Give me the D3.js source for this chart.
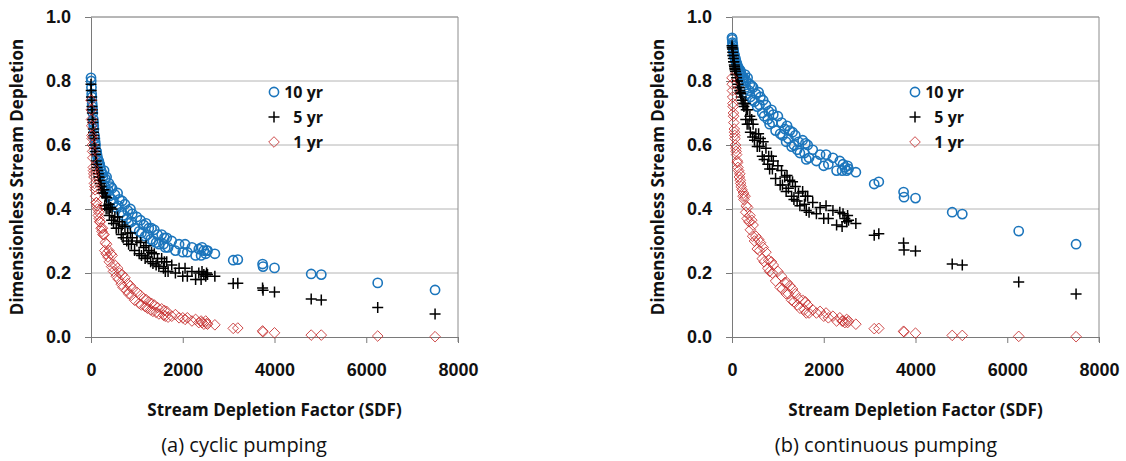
<!DOCTYPE html>
<html>
<head>
<meta charset="utf-8">
<script src="https://cdn.jsdelivr.net/npm/d3@7"></script>
<style>
  html, body { margin: 0; padding: 0; background: #fff; }
  svg { display: block; font-family: "Open Sans", "Noto Sans", sans-serif; }
  .tick text { font-weight: 700; font-size: 18px; fill: #111; }
</style>
</head>
<body>
<div id="chart"></div>
<script>
// Stream depletion factor of each well (shared by all series)
const SDF = [
  0, 5, 10, 15, 20, 25, 30, 35, 40, 50,
  55, 60, 65, 75, 85, 90, 100, 115, 120, 130,
  145, 160, 170, 180, 190, 200, 220, 240, 250, 260,
  285, 300, 310, 330, 340, 370, 390, 400, 430, 450,
  460, 490, 520, 550, 580, 600, 620, 660, 680, 700,
  740, 780, 800, 820, 860, 880, 900, 950, 1000, 1050,
  1080, 1100, 1150, 1180, 1200, 1230, 1260, 1300, 1320, 1350,
  1380, 1420, 1450, 1480, 1540, 1580, 1600, 1620, 1650, 1680,
  1760, 1840, 1920, 2000, 2050, 2100, 2200, 2280, 2350, 2400,
  2420, 2460, 2500, 2520, 2540, 2700, 3100, 3200, 3740, 3750,
  4000, 4800, 5020, 6250, 7500
];

// (a) cyclic pumping
const CYC_10 = [
  0.81, 0.80, 0.78, 0.76, 0.75, 0.73, 0.72, 0.71, 0.70, 0.68,
  0.67, 0.66, 0.65, 0.63, 0.62, 0.61, 0.60, 0.58, 0.58, 0.57,
  0.56, 0.55, 0.55, 0.54, 0.54, 0.53, 0.52, 0.51, 0.51, 0.50,
  0.52, 0.47, 0.495, 0.455, 0.50, 0.46, 0.48, 0.44, 0.47, 0.43,
  0.465, 0.42, 0.445, 0.405, 0.45, 0.41, 0.43, 0.39, 0.425, 0.38,
  0.415, 0.37, 0.395, 0.355, 0.40, 0.36, 0.385, 0.34, 0.375, 0.33,
  0.365, 0.325, 0.35, 0.315, 0.355, 0.32, 0.34, 0.305, 0.34, 0.30,
  0.335, 0.295, 0.32, 0.29, 0.32, 0.29, 0.31, 0.28, 0.31, 0.28,
  0.30, 0.27, 0.29, 0.265, 0.29, 0.265, 0.28, 0.255, 0.275, 0.255,
  0.28, 0.27, 0.26, 0.27, 0.27, 0.26, 0.24, 0.242, 0.228, 0.22,
  0.216, 0.197, 0.195, 0.169, 0.147
];
const CYC_5 = [
  0.79, 0.77, 0.75, 0.74, 0.72, 0.71, 0.70, 0.68, 0.67, 0.65,
  0.64, 0.63, 0.62, 0.60, 0.59, 0.58, 0.57, 0.55, 0.54, 0.53,
  0.52, 0.51, 0.50, 0.50, 0.49, 0.48, 0.47, 0.46, 0.45, 0.45,
  0.46, 0.41, 0.44, 0.40, 0.435, 0.40, 0.415, 0.38, 0.405, 0.365,
  0.40, 0.355, 0.375, 0.34, 0.375, 0.34, 0.36, 0.32, 0.35, 0.31,
  0.345, 0.30, 0.325, 0.29, 0.325, 0.29, 0.31, 0.27, 0.30, 0.26,
  0.295, 0.255, 0.28, 0.245, 0.285, 0.25, 0.27, 0.235, 0.265, 0.23,
  0.26, 0.225, 0.245, 0.22, 0.245, 0.215, 0.235, 0.205, 0.235, 0.205,
  0.225, 0.20, 0.215, 0.19, 0.215, 0.19, 0.205, 0.18, 0.20, 0.18,
  0.205, 0.195, 0.19, 0.20, 0.195, 0.19, 0.167, 0.168, 0.153, 0.146,
  0.141, 0.119, 0.116, 0.092, 0.072
];
const CYC_1 = [
  0.74, 0.71, 0.68, 0.66, 0.63, 0.62, 0.60, 0.58, 0.56, 0.53,
  0.52, 0.51, 0.50, 0.48, 0.47, 0.46, 0.44, 0.42, 0.42, 0.41,
  0.40, 0.38, 0.39, 0.37, 0.36, 0.36, 0.34, 0.33, 0.34, 0.32,
  0.32, 0.27, 0.295, 0.26, 0.29, 0.25, 0.27, 0.235, 0.26, 0.22,
  0.255, 0.205, 0.225, 0.19, 0.215, 0.18, 0.20, 0.165, 0.195, 0.155,
  0.185, 0.145, 0.167, 0.135, 0.16, 0.13, 0.15, 0.115, 0.14, 0.105,
  0.13, 0.10, 0.12, 0.095, 0.117, 0.09, 0.11, 0.085, 0.105, 0.08,
  0.10, 0.077, 0.092, 0.072, 0.088, 0.068, 0.083, 0.065, 0.08, 0.062,
  0.065, 0.07, 0.06, 0.06, 0.055, 0.06, 0.05, 0.055, 0.045, 0.05,
  0.045, 0.04, 0.05, 0.042, 0.04, 0.038, 0.027, 0.028, 0.019, 0.016,
  0.013, 0.006, 0.006, 0.003, 0.001
];

// (b) continuous pumping
const CON_10 = [
  0.935, 0.93, 0.92, 0.915, 0.91, 0.90, 0.90, 0.89, 0.89, 0.88,
  0.88, 0.875, 0.87, 0.87, 0.86, 0.86, 0.855, 0.85, 0.845, 0.84,
  0.84, 0.83, 0.835, 0.82, 0.83, 0.82, 0.815, 0.81, 0.80, 0.81,
  0.82, 0.78, 0.80, 0.76, 0.81, 0.77, 0.79, 0.75, 0.785, 0.74,
  0.78, 0.735, 0.76, 0.72, 0.765, 0.725, 0.75, 0.70, 0.74, 0.69,
  0.725, 0.68, 0.705, 0.665, 0.71, 0.67, 0.695, 0.645, 0.69, 0.635,
  0.67, 0.63, 0.65, 0.61, 0.66, 0.62, 0.645, 0.595, 0.64, 0.60,
  0.63, 0.585, 0.61, 0.575, 0.615, 0.575, 0.605, 0.555, 0.60, 0.56,
  0.585, 0.55, 0.57, 0.535, 0.57, 0.54, 0.56, 0.52, 0.55, 0.52,
  0.54, 0.53, 0.52, 0.535, 0.525, 0.515, 0.478, 0.485, 0.453, 0.437,
  0.434, 0.39, 0.384, 0.331, 0.29
];
const CON_5 = [
  0.91, 0.905, 0.90, 0.89, 0.88, 0.88, 0.87, 0.86, 0.86, 0.85,
  0.845, 0.84, 0.835, 0.83, 0.82, 0.82, 0.81, 0.80, 0.80, 0.79,
  0.78, 0.78, 0.77, 0.765, 0.76, 0.75, 0.74, 0.73, 0.73, 0.72,
  0.73, 0.68, 0.71, 0.665, 0.71, 0.665, 0.69, 0.64, 0.68, 0.625,
  0.665, 0.615, 0.635, 0.595, 0.635, 0.595, 0.62, 0.565, 0.61, 0.555,
  0.59, 0.54, 0.565, 0.525, 0.565, 0.525, 0.55, 0.495, 0.535, 0.475,
  0.52, 0.475, 0.50, 0.455, 0.505, 0.465, 0.49, 0.44, 0.485, 0.43,
  0.47, 0.425, 0.45, 0.41, 0.455, 0.415, 0.44, 0.395, 0.44, 0.39,
  0.42, 0.385, 0.405, 0.37, 0.41, 0.37, 0.395, 0.35, 0.39, 0.345,
  0.385, 0.37, 0.36, 0.38, 0.365, 0.355, 0.318, 0.323, 0.294, 0.272,
  0.269, 0.228, 0.225, 0.172, 0.134
];
const CON_1 = [
  0.81, 0.79, 0.77, 0.75, 0.73, 0.72, 0.70, 0.69, 0.67, 0.65,
  0.64, 0.63, 0.62, 0.60, 0.59, 0.58, 0.57, 0.55, 0.545, 0.53,
  0.52, 0.50, 0.51, 0.49, 0.48, 0.47, 0.46, 0.44, 0.45, 0.43,
  0.44, 0.39, 0.41, 0.37, 0.405, 0.36, 0.38, 0.335, 0.365, 0.315,
  0.35, 0.30, 0.315, 0.275, 0.305, 0.27, 0.295, 0.245, 0.28, 0.235,
  0.265, 0.215, 0.24, 0.205, 0.235, 0.20, 0.225, 0.175, 0.205, 0.155,
  0.19, 0.15, 0.17, 0.135, 0.17, 0.135, 0.16, 0.115, 0.15, 0.11,
  0.135, 0.10, 0.12, 0.09, 0.115, 0.085, 0.11, 0.075, 0.10, 0.075,
  0.085, 0.075, 0.08, 0.065, 0.075, 0.06, 0.065, 0.05, 0.06, 0.05,
  0.05, 0.045, 0.055, 0.045, 0.05, 0.04, 0.026, 0.027, 0.018, 0.016,
  0.012, 0.005, 0.005, 0.002, 0.001
];

const SERIES_NAMES = ["10 yr", "5 yr", "1 yr"];
const X_TICKS = [0, 2000, 4000, 6000, 8000];
const Y_TICKS = [0, 0.2, 0.4, 0.6, 0.8, 1.0];
const CAPTIONS = ["(a) cyclic pumping", "(b) continuous pumping"];

const W = 1126, H = 461;
const svg = d3.select("#chart").append("svg")
  .attr("width", W).attr("height", H);

// marker shapes: circle / plus / diamond (size = half-width in px)
const plusType = {
  draw(ctx, r) {
    ctx.moveTo(-r, 0); ctx.lineTo(r, 0);
    ctx.moveTo(0, r); ctx.lineTo(0, -r);
  }
};
const diamondType = {
  draw(ctx, r) {
    ctx.moveTo(0, -r); ctx.lineTo(r, 0); ctx.lineTo(0, r); ctx.lineTo(-r, 0); ctx.closePath();
  }
};
const circleType = {
  draw(ctx, r) { ctx.moveTo(r, 0); ctx.arc(0, 0, r, 0, 2 * Math.PI); }
};
const MARKERS = [
  { sym: d3.symbol().type(circleType).size(4.6), stroke: "#1b75bc", width: 1.6, opacity: 1 },
  { sym: d3.symbol().type(plusType).size(5.5), stroke: "#000", width: 1.5, opacity: 1 },
  { sym: d3.symbol().type(diamondType).size(5.3), stroke: "#c62d2d", width: 1, opacity: 0.85 }
];

const yTop = 17, yBot = 337;

function drawPanel(left, seriesList, caption, capX) {
  const right = left + 367;
  const x = d3.scaleLinear().domain([0, 8000]).range([left, right]);
  const y = d3.scaleLinear().domain([0, 1]).range([yBot, yTop]);
  const g = svg.append("g");

  // gridlines
  g.selectAll(".grid").data(Y_TICKS.filter(d => d > 0)).enter()
    .append("line")
    .attr("x1", left).attr("x2", right)
    .attr("y1", d => y(d)).attr("y2", d => y(d))
    .attr("stroke", d => d === 1 ? "#6e6e6e" : "#b4b4b4")
    .attr("stroke-width", 1);

  // right border of plot area
  g.append("line")
    .attr("x1", right).attr("x2", right)
    .attr("y1", yTop).attr("y2", yBot + 5)
    .attr("stroke", "#8c8c8c");

  // axes
  const xAxis = g.append("g")
    .attr("transform", `translate(0,${yBot})`)
    .call(d3.axisBottom(x).tickValues(X_TICKS).tickSize(6).tickSizeOuter(0).tickPadding(20)
      .tickFormat(d3.format("d")));
  const yAxis = g.append("g")
    .attr("transform", `translate(${left},0)`)
    .call(d3.axisLeft(y).tickValues(Y_TICKS).tickSize(6).tickSizeOuter(0).tickPadding(14)
      .tickFormat(d3.format(".1f")));
  [xAxis, yAxis].forEach(a => {
    a.select(".domain").attr("stroke", "#7a7a7a");
    a.selectAll(".tick line").attr("stroke", "#7a7a7a");
  });

  // points, 10 yr first so that 1 yr sits on top
  seriesList.forEach((vals, si) => {
    const m = MARKERS[si];
    g.append("g").selectAll("path")
      .data(SDF.map((s, i) => [s, vals[i]]))
      .enter().append("path")
      .attr("transform", d => `translate(${x(d[0])},${y(d[1])})`)
      .attr("d", m.sym)
      .attr("fill", "none")
      .attr("stroke", m.stroke)
      .attr("stroke-width", m.width)
      .attr("stroke-opacity", m.opacity);
  });

  // legend
  const lg = g.append("g").attr("transform", `translate(${left + 183},92)`);
  SERIES_NAMES.forEach((name, i) => {
    const m = MARKERS[i];
    lg.append("path")
      .attr("transform", `translate(0,${i * 25})`)
      .attr("d", m.sym)
      .attr("fill", "none")
      .attr("stroke", m.stroke)
      .attr("stroke-width", m.width)
      .attr("stroke-opacity", m.opacity);
    lg.append("text")
      .attr("x", 49).attr("y", i * 25)
      .attr("dy", "0.35em")
      .attr("text-anchor", "end")
      .attr("font-size", 16).attr("font-weight", 700).attr("fill", "#111")
      .text(name);
  });

  // axis titles
  g.append("text")
    .attr("x", (left + right) / 2).attr("y", 416)
    .attr("text-anchor", "middle")
    .attr("font-size", 17).attr("font-weight", 700).attr("fill", "#111")
    .text("Stream Depletion Factor (SDF)");
  g.append("text")
    .attr("transform", `translate(${left - 74},${(yTop + yBot) / 2}) rotate(-90)`)
    .attr("text-anchor", "middle")
    .attr("dy", "0.35em")
    .attr("font-size", 17).attr("font-weight", 700).attr("fill", "#111")
    .text("Dimensionless Stream Depletion");

  // caption
  g.append("text")
    .attr("x", capX).attr("y", 452)
    .attr("text-anchor", "middle")
    .attr("font-size", 20).attr("fill", "#111")
    .text(caption);
}

drawPanel(91, [CYC_10, CYC_5, CYC_1], CAPTIONS[0], 244);
drawPanel(732, [CON_10, CON_5, CON_1], CAPTIONS[1], 886);
</script>
</body>
</html>
